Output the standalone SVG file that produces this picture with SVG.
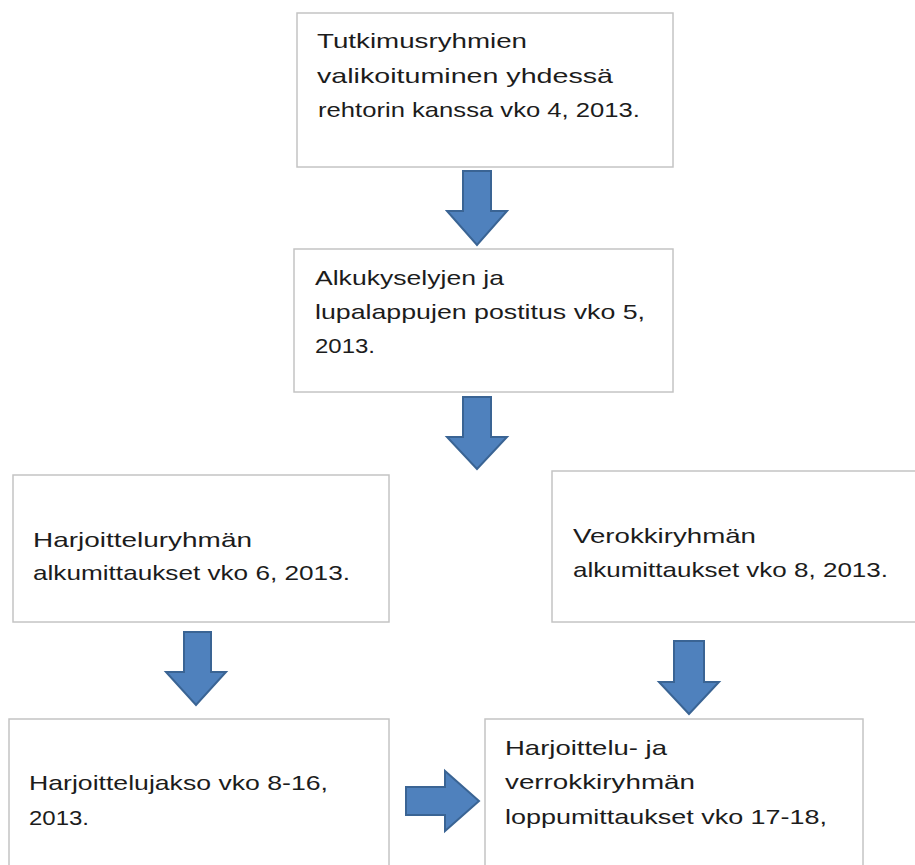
<svg xmlns="http://www.w3.org/2000/svg" width="915" height="865" viewBox="0 0 915 865">
<style>
.box{fill:#ffffff;stroke:#c4c4c4;stroke-width:1.5}
.t{font-family:"Liberation Sans",Arial,sans-serif;font-size:21px;fill:#1c1c1c}
.arr{fill:#4f81bd;stroke:#3a6494;stroke-width:2;stroke-linejoin:miter}
</style>
<rect width="915" height="865" fill="#ffffff"/>
<g id="node1">
<rect class="box" x="297" y="13" width="376" height="154"/>
<text class="t" x="317" y="48" textLength="210" lengthAdjust="spacingAndGlyphs">Tutkimusryhmien</text>
<text class="t" x="317" y="83" textLength="296" lengthAdjust="spacingAndGlyphs">valikoituminen yhdessä</text>
<text class="t" x="318" y="117" textLength="322" lengthAdjust="spacingAndGlyphs">rehtorin kanssa vko 4, 2013.</text>
</g>
<g id="node2">
<rect class="box" x="294" y="249" width="379" height="143"/>
<text class="t" x="315" y="285" textLength="189" lengthAdjust="spacingAndGlyphs">Alkukyselyjen ja</text>
<text class="t" x="315" y="319" textLength="330" lengthAdjust="spacingAndGlyphs">lupalappujen postitus vko 5,</text>
<text class="t" x="315" y="353" textLength="60" lengthAdjust="spacingAndGlyphs">2013.</text>
</g>
<g id="node3">
<rect class="box" x="13" y="475" width="376" height="147"/>
<text class="t" x="33" y="547" textLength="219" lengthAdjust="spacingAndGlyphs">Harjoitteluryhmän</text>
<text class="t" x="33" y="580" textLength="317" lengthAdjust="spacingAndGlyphs">alkumittaukset vko 6, 2013.</text>
</g>
<g id="node4">
<rect class="box" x="552" y="471" width="380" height="151"/>
<text class="t" x="573" y="543" textLength="183" lengthAdjust="spacingAndGlyphs">Verokkiryhmän</text>
<text class="t" x="573" y="577" textLength="315" lengthAdjust="spacingAndGlyphs">alkumittaukset vko 8, 2013.</text>
</g>
<g id="node5">
<rect class="box" x="9" y="719" width="380" height="160"/>
<text class="t" x="29" y="790" textLength="299" lengthAdjust="spacingAndGlyphs">Harjoittelujakso vko 8-16,</text>
<text class="t" x="29" y="825" textLength="60" lengthAdjust="spacingAndGlyphs">2013.</text>
</g>
<g id="node6">
<rect class="box" x="485" y="719" width="378" height="160"/>
<text class="t" x="505" y="755" textLength="162" lengthAdjust="spacingAndGlyphs">Harjoittelu- ja</text>
<text class="t" x="505" y="789" textLength="190" lengthAdjust="spacingAndGlyphs">verrokkiryhmän</text>
<text class="t" x="505" y="824" textLength="322" lengthAdjust="spacingAndGlyphs">loppumittaukset vko 17-18,</text>
</g>
<g id="connectors">
<polygon class="arr" points="463,171 491,171 491,211 507,211 477,245 447,211 463,211"/>
<polygon class="arr" points="463,397 491,397 491,437 507,437 477,469 447,437 463,437"/>
<polygon class="arr" points="184,632 211,632 211,672 226,672 196,705 166,672 184,672"/>
<polygon class="arr" points="674,641 704,641 704,682 719,682 689,714 659,682 674,682"/>
<polygon class="arr" points="406,787 445,787 445,771 479,801 445,831 445,815 406,815"/>
</g>
</svg>
